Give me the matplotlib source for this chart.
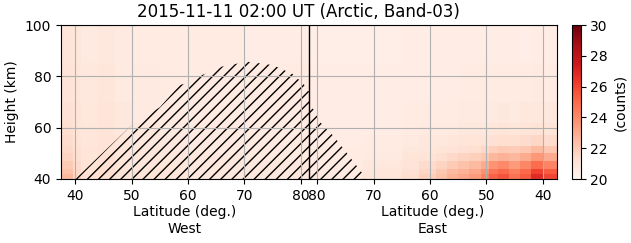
import numpy as np
import matplotlib
matplotlib.use("Agg")
import matplotlib.pyplot as plt

MID = 81.45  # x position of the pole (west/east join)

# cell edges
height_edges = [40, 42, 44, 47, 50, 53, 57, 62, 70, 85, 100]
west_lat_edges = [37.5, 39.5, 41, 44, 47, 50, 55, 60, 70, MID]
east_lat_edges = [MID, 72, 65, 62, 59, 57, 55, 53, 51, 49.5, 48, 46, 44, 42, 40, 37.5]

# counts, rows = height bands (bottom to top), cols = latitude bands
west_counts = [
    [22.6, 21.6, 21.2, 21.3, 21.0, 21.0, 20.9, 20.8, 20.8],
    [22.3, 21.5, 21.1, 21.3, 21.0, 21.0, 20.9, 20.8, 20.8],
    [22.0, 21.4, 21.1, 21.2, 21.0, 20.9, 20.9, 20.8, 20.8],
    [21.7, 21.3, 21.0, 21.2, 20.9, 20.9, 20.8, 20.8, 20.7],
    [21.5, 21.2, 21.0, 21.1, 20.9, 20.9, 20.8, 20.7, 20.7],
    [21.4, 21.1, 20.9, 21.1, 20.9, 20.8, 20.8, 20.7, 20.7],
    [21.3, 21.0, 20.9, 21.0, 20.8, 20.8, 20.7, 20.7, 20.6],
    [21.2, 21.0, 20.8, 21.0, 20.8, 20.7, 20.7, 20.6, 20.6],
    [21.1, 20.9, 20.8, 20.9, 20.7, 20.7, 20.6, 20.6, 20.6],
    [21.0, 20.9, 20.7, 20.8, 20.7, 20.6, 20.6, 20.6, 20.5],
]
east_counts = [
    [20.7, 20.9, 21.3, 21.8, 22.3, 22.8, 23.1, 23.5, 24.3, 25.2, 25.6, 24.8, 25.4, 26.8, 26.0],
    [20.7, 20.9, 21.2, 21.6, 22.1, 22.5, 22.8, 23.1, 23.8, 24.6, 25.0, 24.3, 25.0, 26.1, 25.4],
    [20.6, 20.8, 21.1, 21.4, 21.7, 22.0, 22.3, 22.5, 23.0, 23.7, 24.0, 23.5, 24.1, 24.9, 24.2],
    [20.6, 20.7, 21.0, 21.1, 21.3, 21.5, 21.7, 21.8, 22.1, 22.6, 22.8, 22.6, 23.0, 23.6, 23.0],
    [20.6, 20.6, 20.8, 20.9, 21.0, 21.1, 21.2, 21.3, 21.5, 21.8, 22.0, 21.9, 22.1, 22.5, 22.1],
    [20.5, 20.6, 20.7, 20.8, 20.8, 20.9, 21.0, 21.0, 21.1, 21.2, 21.3, 21.3, 21.4, 21.6, 21.4],
    [20.5, 20.5, 20.6, 20.7, 20.7, 20.7, 20.8, 20.8, 20.8, 20.9, 21.0, 20.9, 21.0, 21.1, 21.0],
    [20.5, 20.5, 20.6, 20.6, 20.6, 20.6, 20.7, 20.7, 20.7, 20.7, 20.8, 20.7, 20.8, 20.8, 20.8],
    [20.5, 20.5, 20.5, 20.5, 20.5, 20.5, 20.6, 20.6, 20.6, 20.6, 20.6, 20.6, 20.6, 20.7, 20.6],
    [20.4, 20.4, 20.5, 20.5, 20.5, 20.5, 20.5, 20.5, 20.5, 20.5, 20.5, 20.5, 20.4, 20.5, 20.5],
]

# hatched (masked) region: top height vs latitude
west_mask_lat = [40, 45, 50, 55, 58.5, 60, 62.5, 66, 70.5, 75, 78.5, 80.5, MID]
west_mask_top = [40, 50.5, 61, 68, 76.6, 77.5, 80.5, 83.8, 85.7, 84.4, 81, 77, 74]
east_mask_lat = [MID, 80.6, 79.4, 77, 74.7, 72, 71.5]
east_mask_top = [69, 67, 62, 56.5, 50, 42.3, 40]

lat_ticks = [40, 50, 60, 70, 80]


def east_x(lat):
    return 2 * MID - np.asarray(lat, dtype=float)


fig = plt.figure(figsize=(6.31, 2.43), dpi=100)
ax = fig.add_axes([61 / 631, 64 / 243, 496 / 631, 154 / 243])
cax = fig.add_axes([572 / 631, 64 / 243, 8.5 / 631, 154 / 243])

kw = dict(cmap="Reds", vmin=20, vmax=30, shading="flat")
mesh = ax.pcolormesh(west_lat_edges, height_edges, np.array(west_counts), **kw)
ax.pcolormesh(east_x(east_lat_edges), height_edges, np.array(east_counts), **kw)

ax.fill_between(west_mask_lat, 40, west_mask_top, hatch="///",
                facecolor="none", edgecolor="k", linewidth=0)
ax.fill_between(east_x(east_mask_lat), 40, east_mask_top, hatch="///",
                facecolor="none", edgecolor="k", linewidth=0)

ax.axvline(MID, color="k", lw=1.0)

ax.set_xlim(37.45, 2 * MID - 37.45)
ax.set_ylim(40, 100)
ax.set_yticks([40, 60, 80, 100])
ax.set_xticks(lat_ticks + list(east_x(lat_ticks)))
ax.set_xticklabels([str(t) for t in lat_ticks] * 2)
ax.grid(True)
ax.set_ylabel("Height (km)")
ax.set_title("2015-11-11 02:00 UT (Arctic, Band-03)", fontsize=12, x=0.478)

for xf, side in [(0.25, "West"), (0.75, "East")]:
    ax.annotate("Latitude (deg.)\n" + side, xy=(xf, 0), xycoords="axes fraction",
                xytext=(0, -19), textcoords="offset points",
                ha="center", va="top", linespacing=1.2)

cb = fig.colorbar(mesh, cax=cax)
cb.set_ticks([20, 22, 24, 26, 28, 30])
cb.set_label("(counts)")

fig.savefig("out.png", dpi=100)
